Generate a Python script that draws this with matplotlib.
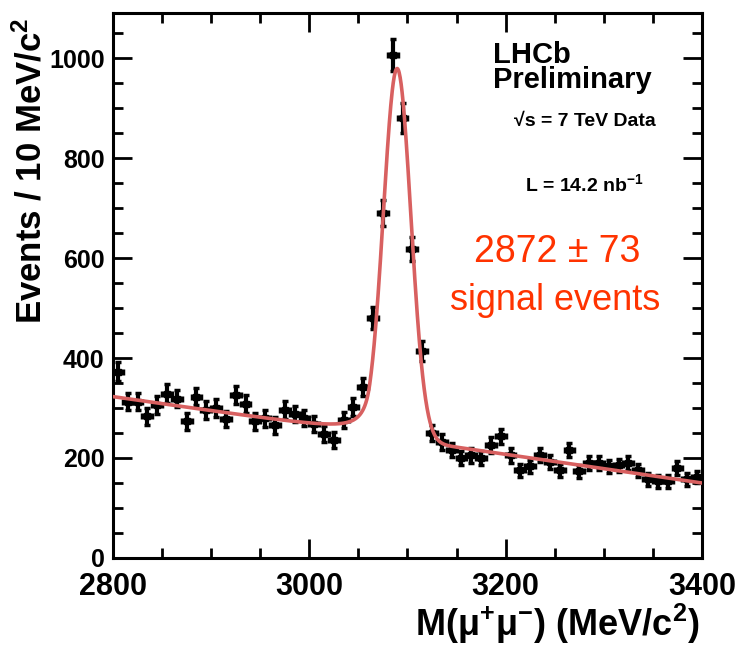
import numpy as np
import matplotlib
matplotlib.use('Agg')
import matplotlib.pyplot as plt
from matplotlib.ticker import MultipleLocator

# binning of the histogram (10 MeV bins between 2800 and 3400)
bin_width = 10
bin_centers = np.arange(2805, 3400, bin_width)

# events per bin
counts = [
    373, 313, 313, 283, 306, 329, 319, 273, 323, 296,
    300, 278, 326, 308, 273, 279, 265, 296, 288, 280,
    268, 248, 236, 276, 302, 342, 480, 690, 1006, 880,
    618, 414, 250, 232, 216, 200, 205, 200, 226, 243,
    205, 175, 183, 206, 192, 175, 216, 173, 190, 190,
    183, 185, 190, 175, 157, 153, 153, 180, 157, 162,
]

# fit: linear background + Crystal Ball peak (parameters estimated from the curve)
bkg_at_2800 = 322
bkg_at_3400 = 150
peak_mass = 3089.5
peak_sigma = 14.0
peak_height = 740
cb_alpha = 2.0
cb_n = 1.5

x_ticks = [2800, 3000, 3200, 3400]
y_ticks = [0, 200, 400, 600, 800, 1000]

plt.rcParams['font.family'] = ['Liberation Sans', 'DejaVu Sans']
plt.rcParams['font.weight'] = 'bold'
plt.rcParams['mathtext.fontset'] = 'custom'
plt.rcParams['mathtext.rm'] = 'Liberation Sans'
plt.rcParams['mathtext.bf'] = 'Liberation Sans:bold'
plt.rcParams['mathtext.default'] = 'regular'


def crystal_ball(m):
    t = (m - peak_mass) / peak_sigma
    a = (cb_n / cb_alpha) ** cb_n * np.exp(-cb_alpha ** 2 / 2)
    b = cb_n / cb_alpha - cb_alpha
    core = np.exp(-0.5 * t ** 2)
    tail = a * np.abs(b - t) ** (-cb_n)
    return np.where(t > -cb_alpha, core, tail)


def fit_curve(m):
    bkg = bkg_at_2800 + (bkg_at_3400 - bkg_at_2800) * (m - 2800) / 600
    return bkg + peak_height * crystal_ball(m)


fig = plt.figure(figsize=(7.4, 6.45), dpi=100)
ax = fig.add_axes([0.1527, 0.1349, 0.7959, 0.8449])

counts_arr = np.array(counts, dtype=float)
ax.errorbar(bin_centers, counts_arr, xerr=bin_width / 2, yerr=np.sqrt(counts_arr),
            fmt='s', ms=5, color='black', ecolor='black', elinewidth=3,
            capsize=2, capthick=2.5, zorder=2)

m_fine = np.linspace(2800, 3400, 1201)
ax.plot(m_fine, fit_curve(m_fine), color='#d86060', lw=2.6, zorder=3)

ax.set_xlim(2800, 3400)
ax.set_ylim(0, 1090)
ax.set_xticks(x_ticks)
ax.set_yticks(y_ticks)
ax.xaxis.set_minor_locator(MultipleLocator(50))
ax.yaxis.set_minor_locator(MultipleLocator(50))
ax.tick_params(which='both', direction='in', top=True, right=True, width=2)
ax.tick_params(which='major', length=14)
ax.tick_params(which='minor', length=7)
ax.tick_params(axis='x', labelsize=22, pad=10)
ax.tick_params(axis='y', labelsize=18, pad=6)
for s in ax.spines.values():
    s.set_linewidth(2.2)

fig.text(700 / 740, 1 - 636 / 645, 'M(μ$^{+}$μ$^{-}$) (MeV/c$^{2}$)', fontsize=26,
         fontweight='bold', ha='right', va='baseline')
fig.text(14 / 740, 1 - 18 / 645, 'Events / 10 MeV/c$^{2}$', fontsize=25,
         fontweight='bold', rotation=90, ha='left', va='top')

ax.text(0.645, 0.909, 'LHCb', transform=ax.transAxes, fontsize=21, va='baseline')
ax.text(0.645, 0.862, 'Preliminary', transform=ax.transAxes, fontsize=21, va='baseline')
ax.text(0.922, 0.793, '√s = 7 TeV Data', transform=ax.transAxes, fontsize=14,
        va='baseline', ha='right')
ax.text(0.699, 0.673, 'L = 14.2 nb$^{-1}$', transform=ax.transAxes, fontsize=14,
        va='baseline')
ax.text(0.755, 0.543, '2872 ± 73', transform=ax.transAxes, fontsize=27,
        fontweight='normal', color='#ff3300', va='baseline', ha='center')
ax.text(0.75, 0.455, 'signal events', transform=ax.transAxes, fontsize=26,
        fontweight='normal', color='#ff3300', va='baseline', ha='center')

fig.savefig('out.png', dpi=100)
